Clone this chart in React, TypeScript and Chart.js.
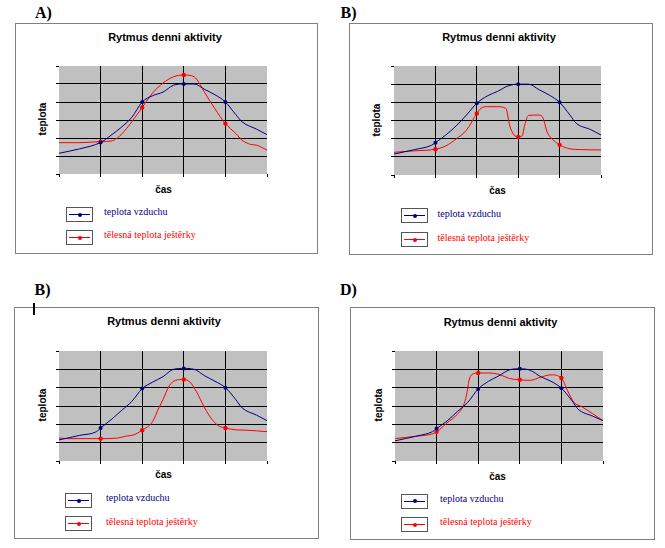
import React, { useEffect, useRef } from "react";
import { Chart, registerables } from "chart.js";

Chart.register(...registerables);

// ---------- texts ----------
const TITLE = "Rytmus denni aktivity";
const Y_TITLE = "teplota";
const X_TITLE = "čas";
const LEGEND_AIR = "teplota vzduchu";
const LEGEND_LIZARD = "tělesná teplota ještěrky";
const PANEL_LABELS = ["A)", "B)", "B)", "D)"];

// ---------- axes ----------
const X_MIN = 0;
const X_MAX = 5;
const Y_MIN = 0;
const Y_MAX = 6;
const MARKER_X = [1, 2, 3, 4];

// ---------- data: panel A ----------
const AIR_A_X = [0, 0.5, 1, 1.25, 1.5, 1.75, 2, 2.25, 2.5, 2.75, 3, 3.25, 3.5, 3.75, 4, 4.25, 4.4, 4.75, 5];
const AIR_A_Y = [1.15, 1.4, 1.75, 2.15, 2.6, 3.15, 4.0, 4.35, 4.55, 4.93, 5.0, 5.0, 4.7, 4.4, 4.0, 3.3, 2.9, 2.49, 2.19];
const LIZ_A_X = [0, 0.5, 1, 1.25, 1.4, 1.5, 1.75, 2, 2.25, 2.5, 2.75, 3, 3.25, 3.4, 3.5, 3.75, 4, 4.25, 4.4, 4.6, 4.75, 5];
const LIZ_A_Y = [1.74, 1.74, 1.8, 1.83, 2.0, 2.2, 2.9, 3.7, 4.5, 5.05, 5.4, 5.5, 5.4, 4.94, 4.53, 3.62, 2.8, 2.25, 1.88, 1.65, 1.6, 1.33];

// ---------- data: panel B (top right) ----------
const AIR_B_X = [0, 0.5, 0.9, 1, 1.25, 1.5, 1.75, 2, 2.25, 2.5, 2.75, 3, 3.25, 3.5, 3.75, 4, 4.25, 4.4, 4.75, 5];
const AIR_B_Y = [1.15, 1.4, 1.63, 1.78, 2.2, 2.7, 3.3, 3.95, 4.35, 4.6, 4.9, 5.0, 5.0, 4.7, 4.4, 4.0, 3.3, 2.85, 2.5, 2.2];
const LIZ_B_X = [0, 0.5, 1, 1.25, 1.5, 1.75, 2, 2.1, 2.25, 2.5, 2.7, 2.8, 2.9, 3, 3.1, 3.15, 3.25, 3.5, 3.6, 3.7, 3.8, 4, 4.25, 4.5, 5];
const LIZ_B_Y = [1.25, 1.33, 1.42, 1.6, 1.98, 2.47, 3.38, 3.67, 3.76, 3.76, 3.67, 2.68, 2.2, 2.1, 2.17, 2.68, 3.28, 3.3, 3.13, 2.36, 2.03, 1.66, 1.44, 1.4, 1.38];

// ---------- data: panel "B)" (bottom left) ----------
const AIR_C_X = [0, 0.5, 0.9, 1, 1.25, 1.5, 1.75, 2, 2.25, 2.5, 2.75, 3, 3.25, 3.5, 3.75, 4, 4.25, 4.4, 4.75, 5];
const AIR_C_Y = [1.15, 1.4, 1.6, 1.8, 2.25, 2.75, 3.25, 3.95, 4.3, 4.6, 5.0, 5.05, 5.0, 4.65, 4.35, 4.0, 3.35, 2.9, 2.5, 2.2];
const LIZ_C_X = [0, 0.25, 1, 1.4, 1.6, 1.8, 2, 2.25, 2.4, 2.5, 2.65, 2.8, 3, 3.15, 3.3, 3.5, 3.7, 3.85, 4, 4.25, 4.5, 5];
const LIZ_C_Y = [1.25, 1.22, 1.22, 1.25, 1.35, 1.43, 1.68, 2.15, 2.9, 3.35, 4.1, 4.4, 4.45, 4.3, 3.8, 2.9, 2.2, 1.9, 1.8, 1.7, 1.68, 1.6];

// ---------- data: panel D ----------
const AIR_D_X = [0, 0.5, 0.9, 1, 1.25, 1.5, 1.75, 2, 2.25, 2.5, 2.75, 3, 3.25, 3.5, 3.75, 4, 4.25, 4.4, 4.75, 5];
const AIR_D_Y = [1.1, 1.35, 1.6, 1.77, 2.18, 2.7, 3.2, 3.93, 4.35, 4.65, 4.97, 5.03, 4.95, 4.6, 4.35, 3.97, 3.3, 2.83, 2.45, 2.2];
const LIZ_D_X = [0, 0.5, 0.9, 1, 1.25, 1.5, 1.65, 1.72, 1.78, 1.85, 2, 2.25, 2.5, 2.75, 3, 3.25, 3.5, 3.75, 4, 4.15, 4.3, 4.5, 4.75, 5];
const LIZ_D_Y = [1.22, 1.35, 1.48, 1.59, 2.08, 2.55, 3.05, 3.6, 4.4, 4.72, 4.8, 4.8, 4.73, 4.5, 4.43, 4.4, 4.57, 4.7, 4.53, 3.83, 3.2, 2.95, 2.58, 2.2];

const SERIES = [
  { air: [AIR_A_X, AIR_A_Y], liz: [LIZ_A_X, LIZ_A_Y] },
  { air: [AIR_B_X, AIR_B_Y], liz: [LIZ_B_X, LIZ_B_Y] },
  { air: [AIR_C_X, AIR_C_Y], liz: [LIZ_C_X, LIZ_C_Y] },
  { air: [AIR_D_X, AIR_D_Y], liz: [LIZ_D_X, LIZ_D_Y] },
];

// ---------- layout (page pixel coordinates) ----------
type Layout = {
  box: [number, number, number, number];
  plot: [number, number, number, number];
  label: [number, number];
  title: [number, number];
  yTitle: [number, number];
  xTitle: [number, number];
  legX: number;
  legY: [number, number];
  textX: number;
  textY: [number, number];
};

const LAYOUTS: Layout[] = [
  { box: [15, 23, 318, 254], plot: [59, 66, 267, 174], label: [43.5, 12.5], title: [165, 37], yTitle: [42.5, 119], xTitle: [163.5, 190], legX: 66, legY: [207, 230], textX: 104, textY: [211.5, 234.5] },
  { box: [349, 23, 653, 255], plot: [394, 66, 601, 175], label: [348.5, 12.5], title: [499, 37], yTitle: [377, 120], xTitle: [497.5, 191], legX: 401, legY: [208, 232], textX: 437.5, textY: [214, 237.7] },
  { box: [14, 307, 319, 539], plot: [59, 351, 267, 461], label: [42.5, 289.5], title: [164, 321], yTitle: [42.5, 405], xTitle: [163.5, 475], legX: 65, legY: [493, 516], textX: 106, textY: [498.3, 521.7] },
  { box: [350, 307, 655, 540], plot: [395, 351, 603, 461], label: [348.5, 289.5], title: [500.5, 321.5], yTitle: [378.5, 405], xTitle: [497.5, 476.5], legX: 401, legY: [493.5, 517], textX: 440, textY: [499, 522.3] },
];

const PAD = 4;
const TICK = 3;
const NAVY = "#000080";
const RED = "#ff0000";
const SANS = '"Liberation Sans", Arial, sans-serif';
const SERIF = '"Liberation Serif", "Times New Roman", serif';

const bgPlugin = {
  id: "plotBg",
  beforeDraw(chart: any) {
    const { ctx, chartArea: a } = chart;
    ctx.save();
    ctx.fillStyle = "#c0c0c0";
    ctx.fillRect(a.left, a.top, a.right - a.left, a.bottom - a.top);
    ctx.restore();
  },
};

function makeDataset(xs: number[], ys: number[], color: string, r: number) {
  return {
    data: xs.map((x, i) => ({ x, y: ys[i] })),
    borderColor: color,
    backgroundColor: color,
    borderWidth: 1,
    pointRadius: xs.map((x) => (MARKER_X.includes(x) ? r : 0)),
    pointHoverRadius: 0,
    pointBackgroundColor: color,
    pointBorderColor: color,
    pointBorderWidth: 0,
    cubicInterpolationMode: "monotone" as const,
    fill: false,
  };
}

function PlotCanvas({ idx }: { idx: number }) {
  const ref = useRef<HTMLCanvasElement>(null);
  const L = LAYOUTS[idx];
  const [pl, pt, pr, pb] = L.plot;
  const w = pr - pl + 2 * PAD + TICK;
  const h = pb - pt + 2 * PAD + TICK;
  useEffect(() => {
    const s = SERIES[idx];
    const gridColor = (last: number) => (ctx: any) =>
      ctx.index === 0 || ctx.index === last ? "rgba(0,0,0,0)" : "#000000";
    const chart = new Chart(ref.current as HTMLCanvasElement, {
      type: "line",
      data: {
        datasets: [
          makeDataset(s.air[0], s.air[1], NAVY, 2),
          makeDataset(s.liz[0], s.liz[1], RED, 2.2),
        ],
      },
      options: {
        animation: false,
        responsive: false,
        devicePixelRatio: 1,
        layout: { padding: PAD },
        plugins: { legend: { display: false }, title: { display: false }, tooltip: { enabled: false } },
        events: [],
        scales: {
          x: {
            type: "linear",
            min: X_MIN,
            max: X_MAX,
            ticks: { stepSize: 1, display: false },
            grid: { color: gridColor(5), tickColor: "#000000", tickLength: TICK, lineWidth: 1 },
            border: { display: false },
          },
          y: {
            type: "linear",
            min: Y_MIN,
            max: Y_MAX,
            ticks: { stepSize: 1, display: false },
            grid: { color: gridColor(6), tickColor: "#000000", tickLength: TICK, lineWidth: 1 },
            border: { display: false },
          },
        },
      } as any,
      plugins: [bgPlugin],
    });
    return () => chart.destroy();
  }, [idx]);
  return (
    <canvas
      ref={ref}
      width={w}
      height={h}
      style={{ position: "absolute", left: pl - PAD - TICK, top: pt - PAD, width: w, height: h }}
    />
  );
}

const centered = (x: number, y: number, extra: any = {}) => ({
  position: "absolute" as const,
  left: x,
  top: y,
  transform: "translate(-50%, -50%)",
  lineHeight: 1,
  whiteSpace: "nowrap" as const,
  ...extra,
});

function LegendRow({ x, y, tx, ty, color, text }: any) {
  return (
    <>
      <div
        style={{
          position: "absolute",
          left: x,
          top: y,
          width: 27,
          height: 15,
          boxSizing: "border-box",
          border: "1px solid #555",
          background: "#fff",
        }}
      >
        <div style={{ position: "absolute", left: 2, top: 6, width: 21, height: 1, background: color }} />
        <div
          style={{ position: "absolute", left: 10.5, top: 4.5, width: 4, height: 4, borderRadius: 2, background: color }}
        />
      </div>
      <div
        style={{
          position: "absolute",
          left: tx,
          top: ty,
          transform: "translateY(-50%)",
          lineHeight: 1,
          whiteSpace: "nowrap",
          fontFamily: SERIF,
          fontSize: 10,
          color,
        }}
      >
        {text}
      </div>
    </>
  );
}

function Panel({ idx }: { idx: number }) {
  const L = LAYOUTS[idx];
  const [bl, bt, br, bb] = L.box;
  return (
    <>
      <div
        style={centered(L.label[0], L.label[1], {
          fontFamily: SERIF,
          fontWeight: "bold",
          fontSize: 16,
          color: "#000",
        })}
      >
        {PANEL_LABELS[idx]}
      </div>
      <div
        style={{
          position: "absolute",
          left: bl,
          top: bt,
          width: br - bl,
          height: bb - bt,
          boxSizing: "border-box",
          border: "1px solid #808080",
          background: "#fff",
        }}
      />
      <div style={centered(L.title[0], L.title[1], { fontFamily: SANS, fontWeight: "bold", fontSize: 11, color: "#000" })}>
        {TITLE}
      </div>
      <div
        style={{
          ...centered(L.yTitle[0], L.yTitle[1], { fontFamily: SANS, fontWeight: "bold", fontSize: 10, color: "#000" }),
          transform: "translate(-50%, -50%) rotate(-90deg)",
        }}
      >
        {Y_TITLE}
      </div>
      <div style={centered(L.xTitle[0], L.xTitle[1], { fontFamily: SANS, fontWeight: "bold", fontSize: 10, color: "#000" })}>
        {X_TITLE}
      </div>
      <PlotCanvas idx={idx} />
      <LegendRow x={L.legX} y={L.legY[0]} tx={L.textX} ty={L.textY[0]} color={NAVY} text={LEGEND_AIR} />
      <LegendRow x={L.legX} y={L.legY[1]} tx={L.textX} ty={L.textY[1]} color={RED} text={LEGEND_LIZARD} />
    </>
  );
}

export default function App() {
  return (
    <div style={{ position: "absolute", left: 0, top: 0, width: 665, height: 548, background: "#fff", overflow: "hidden" }}>
      {LAYOUTS.map((_, i) => (
        <Panel key={i} idx={i} />
      ))}
      <div style={{ position: "absolute", left: 33, top: 303, width: 2, height: 12, background: "#000" }} />
    </div>
  );
}
